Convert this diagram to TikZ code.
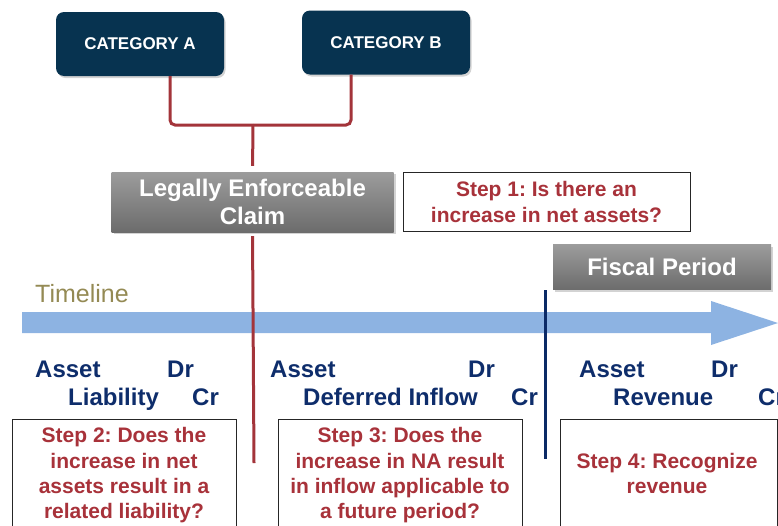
\documentclass[tikz,border=0pt]{standalone}
\usepackage{fontspec}
\setmainfont{Liberation Sans}
\usetikzlibrary{shadows,calc}
\frenchspacing

\definecolor{catnavy}{HTML}{073350}
\definecolor{linered}{HTML}{A3343A}
\definecolor{stepred}{HTML}{A8323A}
\definecolor{acctnavy}{HTML}{0E2D6B}
\definecolor{periodnavy}{HTML}{0B2A66}
\definecolor{olive}{HTML}{948A54}
\definecolor{arrowblue}{HTML}{8DB3E2}
\definecolor{greytop}{HTML}{9C9C9C}
\definecolor{greybot}{HTML}{6C6C6C}

\newcommand\fsz[2]{\fontsize{#1}{#2}\selectfont}

\tikzset{
  catbox/.style={fill=catnavy, rounded corners=8pt, text=white,
    font=\bfseries\fsz{17}{20}, minimum width=168pt, minimum height=64pt,
    inner sep=0pt,
    drop shadow={shadow xshift=1.5pt, shadow yshift=-2pt, opacity=.35}},
  greybox/.style={top color=greytop, bottom color=greybot, text=white,
    font=\bfseries\fsz{24}{28}, align=center, inner sep=0pt,
    drop shadow={shadow xshift=2pt, shadow yshift=-2pt, opacity=.35}},
  stepbox/.style={draw=black!85, line width=1pt, fill=white, inner sep=0pt},
  steptext/.style={text=stepred, font=\bfseries\fsz{21}{25.3}, align=center,
    inner sep=0pt},
  acct/.style={text=acctnavy, font=\bfseries\fsz{24}{28}, inner sep=0pt,
    anchor=base west},
  redline/.style={draw=linered, line width=3pt},
  navyline/.style={draw=periodnavy, line width=3pt},
}

\begin{document}
\begin{tikzpicture}[x=1pt, y=-1pt]
\useasboundingbox (0,0) rectangle (778,525);
\clip (0,0) rectangle (778,525);

% category boxes
\node[catbox] (catA) at (140,44) {CATEGORY A};
\node[catbox] (catB) at (386,42.5) {CATEGORY B};

% legally enforceable claim
\node[greybox, minimum width=282pt, minimum height=60pt] (legal) at (252.5,202)
  {Legally Enforceable\\Claim};

% step 1
\node[stepbox, minimum width=287pt, minimum height=59pt] (s1box) at (546.5,201.5) {};
\node[steptext, font=\bfseries\fsz{21}{26}] (s1) at (s1box.center)
  {Step 1: Is there an\\increase in net assets?};

% bracket joining the two categories
\coordinate (join) at (253,125);
\draw[redline, rounded corners=5pt] ([xshift=30pt]catA.south) |- (join);
\draw[redline, rounded corners=5pt] ([xshift=-35pt]catB.south) |- (join);
\draw[redline, shorten >=6pt] (join) -- (legal.north);

% timeline arrow
\fill[arrowblue] (22,312) -- (711,312) -- (711,301) -- (778,323)
  -- (711,345) -- (711,333) -- (22,333) -- cycle;
\node[text=olive, font=\fsz{25}{30}, anchor=base west, inner sep=0pt]
  (timeline) at (35,302) {Timeline};

% fiscal period
\node[greybox, minimum width=218pt, minimum height=45pt] (fiscal) at (662,267)
  {Fiscal Period};

% vertical markers
\coordinate (redend) at (254,463);
\draw[redline, shorten <=4pt] (legal.south) -- (redend);
\coordinate (navytop) at (545,290);
\coordinate (navyend) at (545,459);
\draw[navyline] (navytop) -- (navyend);

% journal entries
\node[acct] (a1) at (35,377) {Asset};
\node[acct] (d1) at (167,377) {Dr};
\node[acct] (l1) at (68,405) {Liability};
\node[acct] (c1) at (192,405) {Cr};

\node[acct] (a2) at (270,377) {Asset};
\node[acct] (d2) at (468,377) {Dr};
\node[acct] (l2) at (303,405) {Deferred Inflow};
\node[acct] (c2) at (511,405) {Cr};

\node[acct] (a3) at (579,377) {Asset};
\node[acct] (d3) at (711,377) {Dr};
\node[acct] (l3) at (613,405) {Revenue};
\node[acct] (c3) at (758,405) {Cr};

% steps 2 to 4
\node[stepbox, anchor=north west, minimum width=224pt, minimum height=130pt]
  (s2box) at (12,419) {};
\node[steptext, anchor=north] (s2) at (124,427.5)
  {Step 2: Does the\\increase in net\\assets result in a\\related liability?};

\node[stepbox, anchor=north west, minimum width=244pt, minimum height=130pt]
  (s3box) at (278,419) {};
\node[steptext, anchor=north] (s3) at (400,427.5)
  {Step 3: Does the\\increase in NA result\\in inflow applicable to\\a future period?};

\node[stepbox, anchor=north west, minimum width=217pt, minimum height=130pt]
  (s4box) at (559.5,419) {};
\node[steptext, anchor=north] (s4) at (667,453)
  {Step 4: Recognize\\revenue};
\end{tikzpicture}
\end{document}
